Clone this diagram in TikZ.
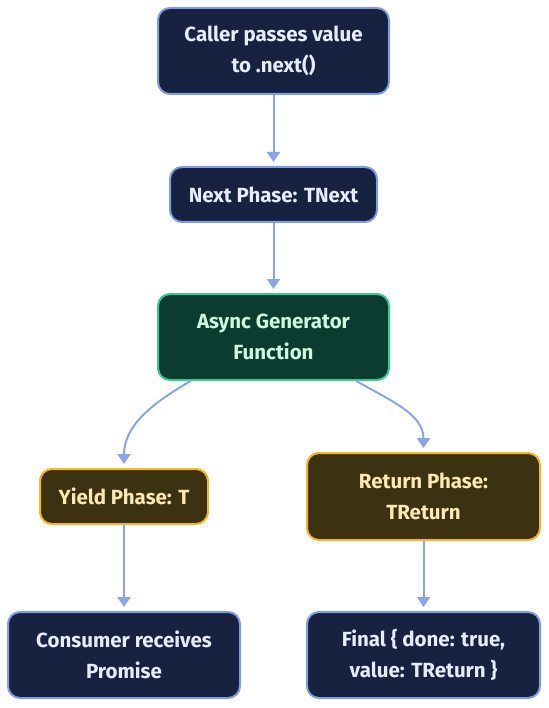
\documentclass[tikz,border=0pt]{standalone}
\usepackage{fontspec}
\setmainfont{Fira Sans}
\usetikzlibrary{positioning, arrows.meta}
\definecolor{navyfill}{HTML}{16223F}
\definecolor{navyline}{HTML}{7F9DE3}
\definecolor{navytext}{HTML}{E6ECFA}
\definecolor{greenfill}{HTML}{0C3B2F}
\definecolor{greenline}{HTML}{3CC98F}
\definecolor{greentext}{HTML}{CDF7DF}
\definecolor{goldfill}{HTML}{3C3110}
\definecolor{goldline}{HTML}{F2B52C}
\definecolor{goldtext}{HTML}{FCE8B4}
\definecolor{flowline}{HTML}{8AA4E8}
\tikzset{
  box/.style={rounded corners=12pt, line width=2pt, align=center,
    font=\fontsize{20.5}{31}\selectfont\bfseries, inner sep=0pt},
  navybox/.style={box, fill=navyfill, draw=navyline, text=navytext},
  greenbox/.style={box, fill=greenfill, draw=greenline, text=greentext},
  goldbox/.style={box, fill=goldfill, draw=goldline, text=goldtext},
  flow/.style={draw=flowline, line width=2pt, shorten >=4pt,
    -{Triangle[length=10pt, width=13pt]}}
}
\begin{document}
\begin{tikzpicture}[x=1pt, y=-1pt]
\useasboundingbox (0,0) rectangle (548,708);
% top of the chain
\node[navybox, minimum width=231pt, minimum height=86pt] (caller) at (273.5,51) {Caller passes value\\to .next()};
\node[navybox, minimum width=207pt, minimum height=55pt] (nextph) at (273.5,194.5) {Next Phase: TNext};
\node[greenbox, minimum width=231pt, minimum height=86pt] (asyncfn) at (273.5,337) {Async Generator\\Function};
% the two branches
\node[goldbox, minimum width=168pt, minimum height=55pt] (yieldph) at (124,496.5) {Yield Phase: T};
\node[goldbox, minimum width=233pt, minimum height=87pt] (returnph) at (423.5,496.5) {Return Phase:\\TReturn};
\node[navybox, minimum width=232pt, minimum height=86pt] (consumer) at (124,655) {Consumer receives\\Promise};
\node[navybox, minimum width=233pt, minimum height=86pt] (final) at (423.5,655) {Final \{ done: true,\\value: TReturn \}};
% connectors
\draw[flow] (caller) -- (nextph);
\draw[flow] (nextph) -- (asyncfn);
\draw[flow] (asyncfn.-152.7) to[out=-150, in=90] (yieldph.north);
\draw[flow] (asyncfn.-28) to[out=-30, in=90] (returnph.north);
\draw[flow] (yieldph) -- (consumer);
\draw[flow] (returnph) -- (final);
\end{tikzpicture}
\end{document}
